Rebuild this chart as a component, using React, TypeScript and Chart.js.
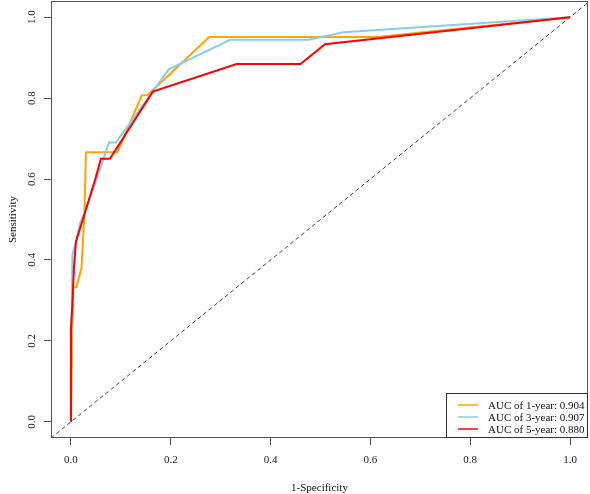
import React, { useEffect, useRef } from "react";
import { Chart, registerables } from "chart.js";

Chart.register(...registerables);

const seriesLabels = ["AUC of 1-year: 0.904", "AUC of 3-year: 0.907", "AUC of 5-year: 0.880"];
const seriesColors = ["#FFA500", "#87CEEB", "#FF0000"];

const fpr1 = [0, 0.004, 0.011, 0.021, 0.027, 0.030, 0.093, 0.142, 0.153, 0.277, 0.613, 1];
const tpr1 = [0, 0.330, 0.334, 0.380, 0.515, 0.666, 0.666, 0.807, 0.807, 0.951, 0.951, 1];

const fpr3 = [0, 0.001, 0.003, 0.010, 0.018, 0.028, 0.051, 0.076, 0.090, 0.196, 0.319, 0.476, 0.546, 1];
const tpr3 = [0, 0.230, 0.413, 0.445, 0.490, 0.519, 0.597, 0.690, 0.690, 0.871, 0.944, 0.944, 0.963, 1];

const fpr5 = [0, 0, 0.003, 0.006, 0.010, 0.048, 0.060, 0.078, 0.164, 0.332, 0.460, 0.509, 1];
const tpr5 = [0, 0.229, 0.294, 0.380, 0.445, 0.597, 0.650, 0.650, 0.816, 0.884, 0.884, 0.933, 1];

const refLine = [-0.04, 1.04];
const tickValues = [0, 0.2, 0.4, 0.6, 0.8, 1.0];
const tickLabels = ["0.0", "0.2", "0.4", "0.6", "0.8", "1.0"];

const FONT = "'Liberation Serif', 'Times New Roman', serif";

const toPts = (xs: number[], ys: number[]) => xs.map((x, i) => ({ x, y: ys[i] }));

const customPlugin = {
  id: "rocDecor",
  afterDraw(chart: any) {
    const { ctx, chartArea, scales } = chart;
    const ys = scales.y;
    ctx.save();
    // box
    ctx.strokeStyle = "#555";
    ctx.lineWidth = 1;
    ctx.strokeRect(chartArea.left + 0.5, chartArea.top + 0.5, chartArea.right - chartArea.left - 1, chartArea.bottom - chartArea.top - 1);
    // y tick labels rotated
    ctx.fillStyle = "#222";
    ctx.font = `11px ${FONT}`;
    ctx.textAlign = "center";
    ctx.textBaseline = "middle";
    tickValues.forEach((v, i) => {
      const py = ys.getPixelForValue(v);
      ctx.save();
      ctx.translate(32, py);
      ctx.rotate(-Math.PI / 2);
      ctx.fillText(tickLabels[i], 0, 0);
      ctx.restore();
    });
    // legend
    const lx = 446, ly = 393, lw = chartArea.right - 446, lh = chartArea.bottom - 393;
    ctx.fillStyle = "#fff";
    ctx.fillRect(lx, ly, lw, lh);
    ctx.strokeStyle = "#333";
    ctx.strokeRect(lx + 0.5, ly + 0.5, lw - 1, lh - 1);
    seriesLabels.forEach((lab, i) => {
      const cy = 405 + i * 12;
      ctx.strokeStyle = seriesColors[i];
      ctx.lineWidth = 1.5;
      ctx.beginPath();
      ctx.moveTo(458, cy);
      ctx.lineTo(478, cy);
      ctx.stroke();
      ctx.fillStyle = "#111";
      ctx.textAlign = "left";
      ctx.fillText(lab, 488, cy + 1);
    });
    ctx.restore();
  },
};

export default function App() {
  const ref = useRef<HTMLCanvasElement>(null);
  useEffect(() => {
    document.body.style.margin = "0";
    const canvas = ref.current!;
    const chart = new Chart(canvas, {
      type: "scatter",
      data: {
        datasets: [
          {
            label: "ref",
            data: toPts(refLine, refLine),
            showLine: true,
            borderColor: "#444",
            borderWidth: 1,
            borderDash: [4, 3],
            pointRadius: 0,
            order: 3,
          },
          {
            label: seriesLabels[0],
            data: toPts(fpr1, tpr1),
            showLine: true,
            borderColor: seriesColors[0],
            borderWidth: 2,
            pointRadius: 0,
            order: 2,
          },
          {
            label: seriesLabels[1],
            data: toPts(fpr3, tpr3),
            showLine: true,
            borderColor: seriesColors[1],
            borderWidth: 2,
            pointRadius: 0,
            order: 1,
          },
          {
            label: seriesLabels[2],
            data: toPts(fpr5, tpr5),
            showLine: true,
            borderColor: seriesColors[2],
            borderWidth: 2,
            pointRadius: 0,
            order: 0,
          },
        ],
      },
      options: {
        animation: false,
        responsive: false,
        maintainAspectRatio: false,
        layout: { padding: { top: 1, right: 2, left: 0, bottom: 0 } },
        plugins: { legend: { display: false }, tooltip: { enabled: false } },
        scales: {
          x: {
            type: "linear",
            min: -0.04,
            max: 1.036,
            afterBuildTicks: (s: any) => {
              s.ticks = tickValues.map((v) => ({ value: v }));
            },
            afterFit: (s: any) => {
              s.height = 56;
            },
            ticks: {
              color: "#222",
              font: { family: FONT, size: 11 },
              padding: 9,
              maxRotation: 0,
              callback: (v: any) => tickLabels[tickValues.indexOf(Number(v))] ?? "",
            },
            grid: { drawOnChartArea: false, drawTicks: true, tickLength: 7, color: "#555" },
            border: { display: false },
            title: {
              display: true,
              text: "1-Specificity",
              color: "#111",
              font: { family: FONT, size: 11, lineHeight: 1 },
              padding: { top: 0, bottom: 0 },
            },
          },
          y: {
            type: "linear",
            min: -0.04,
            max: 1.04,
            afterBuildTicks: (s: any) => {
              s.ticks = tickValues.map((v) => ({ value: v }));
            },
            afterFit: (s: any) => {
              s.width = 51;
            },
            ticks: { display: false },
            grid: { drawOnChartArea: false, drawTicks: true, tickLength: 7, color: "#555" },
            border: { display: false },
            title: {
              display: true,
              text: "Sensitivity",
              color: "#111",
              font: { family: FONT, size: 11, lineHeight: 1 },
              padding: { top: 8, bottom: 0 },
            },
          },
        },
      },
      plugins: [customPlugin],
    } as any);
    return () => chart.destroy();
  }, []);
  return (
    <div style={{ width: 590, height: 494 }}>
      <canvas ref={ref} width={590} height={494} style={{ display: "block", width: 590, height: 494 }} />
    </div>
  );
}
